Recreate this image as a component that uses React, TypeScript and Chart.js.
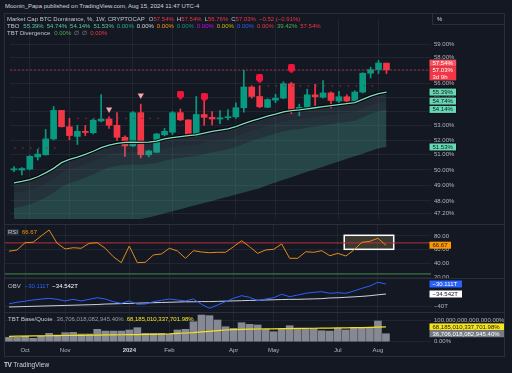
import React, { useEffect, useRef } from "react";
import { Chart, registerables } from "chart.js";
Chart.register(...registerables);

const FONT = '"Liberation Sans", Arial, Helvetica, sans-serif';
const BG = "#141823";
const LINE = "#2a2e39";
const GRID = "rgba(42,46,57,0.6)";
const AXIS_TEXT = "#b2b5be";
const GREEN = "#089981";
const RED = "#f23645";
const MINT = "#7ee0c3";
const X_MIN = -0.5;
const X_MAX = 52.62;
const AXIS_W = 73;

// ---- weekly candles (Sep 18 2023 .. Aug 12 2024) ----
const opens = [50.0, 49.99, 50.05, 50.86, 51.0, 52.08, 54.07, 52.92, 52.25, 52.6, 52.51, 53.32, 53.46, 53.02, 52.19, 51.6, 53.91, 51.0, 51.17, 52.36, 52.54, 53.91, 53.4, 52.31, 53.78, 53.58, 53.46, 53.55, 53.61, 54.26, 55.76, 55.07, 54.29, 54.8, 54.95, 56.0, 54.13, 54.29, 55.19, 55.02, 55.33, 54.74, 55.05, 54.74, 55.39, 56.78, 57.05, 57.54];
const highs = [50.22, 50.15, 50.95, 51.37, 52.73, 54.35, 54.07, 53.51, 53.02, 53.02, 53.46, 55.21, 53.61, 53.91, 52.29, 53.99, 54.52, 51.32, 52.45, 52.8, 53.99, 54.17, 53.4, 55.07, 55.02, 53.99, 54.06, 54.13, 54.62, 57.0, 55.85, 55.85, 54.9, 55.23, 56.15, 56.1, 54.52, 55.6, 55.95, 56.23, 55.4, 55.44, 55.19, 55.49, 56.82, 57.24, 57.75, 57.54];
const lows = [49.88, 49.67, 50.0, 50.65, 50.98, 52.0, 52.9, 52.02, 51.7, 52.31, 52.42, 53.25, 52.8, 51.97, 50.9, 51.55, 50.79, 50.86, 51.17, 52.29, 52.38, 53.34, 52.25, 52.25, 53.02, 53.04, 53.13, 53.4, 53.51, 53.94, 54.95, 54.26, 54.26, 54.62, 54.9, 53.84, 53.69, 54.17, 54.4, 54.95, 54.24, 54.52, 54.52, 54.69, 55.32, 56.43, 56.75, 56.76];
const closes = [50.07, 50.09, 50.9, 51.05, 52.08, 54.07, 52.92, 52.31, 52.6, 52.52, 53.38, 53.46, 53.02, 52.19, 51.6, 53.91, 51.0, 51.26, 52.42, 52.6, 53.91, 53.4, 52.31, 53.78, 53.58, 53.46, 53.55, 53.61, 54.26, 55.76, 55.07, 54.33, 54.85, 54.95, 56.0, 54.13, 54.29, 55.19, 55.05, 55.33, 54.78, 55.05, 54.74, 55.39, 56.78, 57.05, 57.55, 57.03];

// ---- TBO bands ----
const tboFast = [49.15, 49.25, 49.37, 49.55, 49.8, 50.1, 50.48, 50.7, 50.85, 51.03, 51.24, 51.48, 51.66, 51.78, 51.84, 51.86, 51.84, 51.86, 51.93, 52.08, 52.17, 52.24, 52.31, 52.36, 52.48, 52.6, 52.69, 52.77, 52.93, 53.13, 53.33, 53.49, 53.66, 53.8, 53.96, 54.05, 54.1, 54.18, 54.26, 54.34, 54.41, 54.48, 54.55, 54.62, 54.86, 55.1, 55.27, 55.39];
const tboMid = [48.5, 48.6, 48.72, 48.9, 49.15, 49.45, 49.83, 50.05, 50.2, 50.38, 50.59, 50.83, 51.01, 51.13, 51.19, 51.21, 51.19, 51.21, 51.28, 51.43, 51.52, 51.59, 51.66, 51.71, 51.83, 51.95, 52.04, 52.12, 52.28, 52.48, 52.68, 52.84, 53.01, 53.15, 53.31, 53.4, 53.45, 53.53, 53.61, 53.69, 53.76, 53.83, 53.9, 53.97, 54.21, 54.45, 54.62, 54.74];
const tboSlow = [47.55, 47.66, 47.79, 47.97, 48.23, 48.54, 48.92, 49.15, 49.31, 49.5, 49.71, 49.96, 50.15, 50.28, 50.34, 50.37, 50.36, 50.39, 50.46, 50.62, 50.72, 50.8, 50.87, 50.93, 51.06, 51.19, 51.28, 51.37, 51.54, 51.75, 51.95, 52.12, 52.3, 52.45, 52.61, 52.71, 52.77, 52.86, 52.94, 53.03, 53.11, 53.19, 53.26, 53.34, 53.59, 53.84, 54.01, 54.14];
const tboLower = [46.87, 46.87, 46.87, 46.87, 46.87, 46.87, 46.87, 46.87, 46.87, 46.87, 46.87, 46.87, 46.87, 46.87, 46.87, 46.87, 46.87, 46.96, 47.09, 47.22, 47.35, 47.48, 47.61, 47.74, 47.87, 48.0, 48.14, 48.27, 48.4, 48.53, 48.67, 48.81, 49.01, 49.18, 49.35, 49.52, 49.7, 49.87, 50.04, 50.21, 50.38, 50.56, 50.74, 50.91, 51.08, 51.26, 51.44, 51.53];
const tboTop = 57.54;

// dotted levels
const levelValues = [51.45, 53.51, 55.84];
const levelFrom = [0, 8, 31];
const levelTo = [6, 19, 46];

// signal markers
const triIdx = [12, 16];
const triVals = [54.14, 55.15];
const pinIdx = [21, 24, 31, 35];
const pinVals = [55.15, 55.0, 56.36, 57.1];

// ---- RSI ----
const rsi = [58.0, 59.7, 70.3, 70.9, 80.0, 88.7, 69.4, 61.2, 63.0, 62.2, 69.4, 70.3, 62.2, 50.0, 41.3, 65.5, 41.3, 41.9, 52.5, 53.9, 62.2, 58.3, 47.7, 58.7, 56.8, 55.8, 56.4, 56.4, 64.5, 73.2, 64.5, 54.9, 59.7, 60.7, 68.4, 47.7, 47.7, 57.2, 56.4, 58.7, 51.4, 54.9, 51.0, 59.7, 70.9, 72.3, 76.7, 66.67];
const rsiUpper = 70;
const rsiLower = 25;
const rsiBoxX = [41.8, 47.97];
const rsiBoxY = [60.7, 81.0];

// ---- OBV (trillions) ----
const obv = [-38.9, -38.2, -37.7, -37.2, -36.8, -36.45, -36.9, -37.6, -36.9, -37.6, -36.9, -36.2, -36.76, -37.95, -38.66, -37.6, -39.1, -38.97, -37.95, -37.33, -36.76, -37.2, -37.6, -36.76, -39.1, -40.88, -39.41, -37.95, -36.45, -35.3, -36.0, -37.5, -36.76, -36.2, -34.67, -35.74, -35.0, -34.23, -33.79, -33.52, -34.23, -33.97, -34.23, -33.21, -32.02, -31.0, -29.36, -30.111];
const obvMa = [-40.3, -40.2, -40.1, -40.0, -39.9, -39.8, -39.7, -39.6, -39.5, -39.4, -39.3, -39.2, -39.0, -38.9, -38.8, -38.7, -38.6, -38.5, -38.4, -38.3, -38.2, -38.1, -38.0, -38.0, -37.9, -37.9, -37.8, -37.7, -37.6, -37.5, -37.4, -37.3, -37.2, -37.1, -37.0, -36.9, -36.9, -36.8, -36.7, -36.6, -36.3, -36.2, -36.0, -35.8, -35.6, -35.3, -34.9, -34.542];

// ---- TBT Base/Quote (units of 1e12 %) ----
const tbtBars = [20, 20, 26, 15.5, 26, 38.6, 31, 41.6, 43, 35.5, 35.5, 57, 49, 49, 49, 54, 64.5, 38.6, 38.6, 38.6, 34, 54, 57, 92, 123, 120, 100, 69, 61.6, 87.5, 80, 77, 57, 46, 57, 73.7, 61.6, 57, 61.6, 50.7, 49, 61.6, 54, 64.5, 61.6, 64.5, 95.4, 36.706];
const tbtMa = [25, 25.5, 26, 26.5, 27, 27.5, 28, 28.5, 29, 29.5, 30, 30.5, 31, 31.5, 32, 32.5, 33, 33.5, 34, 35, 36, 38, 40, 42, 45, 48, 51, 54, 56, 57, 58, 58.5, 59, 59.5, 60, 60.5, 61, 61.5, 62, 62.5, 63, 63.5, 64, 64.5, 65, 66, 67, 68.185];

// ---- axes ----
const monthIdx = [2, 7, 15, 20, 28, 33, 41, 46];
const monthLabels = ["Oct", "Nov", "2024", "Feb", "Apr", "May", "Jul", "Aug"];
const priceTicks = [47.2, 48, 49, 50, 51, 52, 53, 54, 55, 56, 57, 58, 59];
const rsiTicks = [20, 40, 60, 80];
const obvTicks = [-40];
const tbtTicks = [0, 100];

const pts = (vals: number[]) => vals.map((v, i) => ({ x: i, y: v }));
const span = (v: number, a: number, b: number) => [{ x: a, y: v }, { x: b, y: v }];

function makeX(show: boolean): any {
  return {
    type: "linear",
    min: X_MIN,
    max: X_MAX,
    bounds: "data",
    offset: false,
    grid: { color: GRID, drawTicks: false, offset: false },
    border: { display: false },
    ticks: {
      display: show,
      padding: 4,
      autoSkip: false,
      maxRotation: 0,
      minRotation: 0,
      color: (c: any) => (c.index === 2 ? "#d1d4dc" : AXIS_TEXT),
      font: (c: any) => ({ family: FONT, size: 6, weight: c.index === 2 ? "bold" : "normal" }),
      callback: (_v: any, i: number) => monthLabels[i],
    },
    afterBuildTicks: (s: any) => {
      s.ticks = monthIdx.map((v) => ({ value: v }));
    },
    afterFit: (s: any) => {
      s.paddingLeft = 0;
      s.paddingRight = 0;
      s.height = show ? 13 : 0;
    },
  };
}

function makeY(type: string, min: number, max: number, ticks: number[], fmt: (v: number) => string): any {
  return {
    type,
    position: "right",
    min,
    max,
    bounds: "data",
    grid: { color: GRID, drawTicks: false },
    border: { display: false },
    ticks: {
      color: AXIS_TEXT,
      font: { family: FONT, size: 6 },
      padding: 3,
      autoSkip: false,
      callback: (v: any) => fmt(Number(v)),
    },
    afterBuildTicks: (s: any) => {
      s.ticks = ticks.map((v) => ({ value: v }));
    },
    afterFit: (s: any) => {
      s.width = AXIS_W;
      s.paddingTop = 0;
      s.paddingBottom = 0;
    },
  };
}

type Tag = { value: number; lines: string[]; bg: string; fg: string; w: number; border?: string };
function tagPlugin(id: string, tags: Tag[]): any {
  return {
    id,
    afterDraw(chart: any) {
      const ys = chart.scales.y;
      const ctx = chart.ctx;
      ctx.save();
      ctx.font = `6px ${FONT}`;
      ctx.textBaseline = "middle";
      ctx.textAlign = "left";
      for (const t of tags) {
        const cy = ys.getPixelForValue(t.value);
        const x = ys.left - 1.5;
        const h = 7 * t.lines.length;
        const top = cy - 3.5;
        if (t.border) {
          ctx.fillStyle = t.border;
          ctx.fillRect(x - 0.7, top - 0.7, t.w + 1.4, h + 1.4);
        }
        ctx.fillStyle = t.bg;
        ctx.fillRect(x, top, t.w, h);
        ctx.fillStyle = t.fg;
        t.lines.forEach((s, k) => ctx.fillText(s, x + 3, top + 3.8 + 7 * k));
      }
      ctx.restore();
    },
  };
}

const baseOptions = (scales: any): any => ({
  animation: false,
  responsive: false,
  maintainAspectRatio: false,
  devicePixelRatio: 1,
  events: [],
  layout: { padding: 0 },
  plugins: { legend: { display: false }, tooltip: { enabled: false } },
  scales,
});

function makePin(): HTMLCanvasElement {
  const c = document.createElement("canvas");
  c.width = 7;
  c.height = 9;
  const g = c.getContext("2d")!;
  g.fillStyle = "#f0153c";
  g.beginPath();
  g.moveTo(1.5, 0);
  g.lineTo(5.5, 0);
  g.quadraticCurveTo(7, 0, 7, 1.5);
  g.lineTo(7, 5.5);
  g.lineTo(3.5, 9);
  g.lineTo(0, 5.5);
  g.lineTo(0, 1.5);
  g.quadraticCurveTo(0, 0, 1.5, 0);
  g.closePath();
  g.fill();
  return c;
}

export default function App() {
  const mainRef = useRef<HTMLCanvasElement>(null);
  const rsiRef = useRef<HTMLCanvasElement>(null);
  const obvRef = useRef<HTMLCanvasElement>(null);
  const tbtRef = useRef<HTMLCanvasElement>(null);

  useEffect(() => {
    const charts: Chart[] = [];
    const candleColors = closes.map((c, i) => (c >= opens[i] ? GREEN : RED));
    const last = closes.length - 1;

    const levelSets = levelValues.map((v, k) => ({
      type: "line",
      data: span(v, levelFrom[k], levelTo[k]),
      borderColor: "#8c2d38",
      borderWidth: 1.2,
      borderDash: [1.5, 6.5],
      pointRadius: 0,
      fill: false,
      order: 6,
    }));

    charts.push(
      new Chart(mainRef.current!, {
        type: "bar",
        data: {
          datasets: [
            { type: "line", data: pts(tboFast), borderColor: MINT, borderWidth: 1.3, pointRadius: 0, fill: false, order: 4 },
            { type: "line", data: pts(tboMid), borderWidth: 0, borderColor: "rgba(0,0,0,0)", pointRadius: 0, fill: { target: 0 }, backgroundColor: "rgba(120,150,155,0.16)", order: 10 },
            { type: "line", data: pts(tboSlow), borderWidth: 0, borderColor: "rgba(0,0,0,0)", pointRadius: 0, fill: { target: 1 }, backgroundColor: "rgba(100,160,155,0.2)", order: 10 },
            { type: "line", data: pts(tboLower), borderWidth: 0, borderColor: "rgba(0,0,0,0)", pointRadius: 0, fill: { target: 2 }, backgroundColor: "rgba(80,175,155,0.3)", order: 10 },
            { type: "line", data: pts(tboFast), borderColor: "rgba(0,0,0,0.85)", borderWidth: 3.4, pointRadius: 0, fill: false, order: 5 },
            ...levelSets,
            { type: "line", data: span(closes[last], X_MIN, X_MAX), borderColor: "rgba(242,54,69,0.6)", borderWidth: 1, borderDash: [2, 2], pointRadius: 0, fill: false, order: 3 },
            { type: "bar", data: closes.map((_c, i) => ({ x: i, y: [lows[i], highs[i]] })), backgroundColor: candleColors, barThickness: 1, grouped: false, order: 21 },
            { type: "bar", data: closes.map((c, i) => ({ x: i, y: [opens[i], c] })), backgroundColor: candleColors, barThickness: 6, grouped: false, minBarLength: 1, order: 20 },
            { type: "line", data: triIdx.map((x, k) => ({ x, y: triVals[k] })), showLine: false, pointStyle: "triangle", rotation: 180, pointRadius: 3.6, pointBackgroundColor: "#f5a5a8", pointBorderWidth: 0, order: 1 },
            { type: "line", data: pinIdx.map((x, k) => ({ x, y: pinVals[k] })), showLine: false, pointStyle: makePin(), pointRadius: 4, order: 1 },
          ] as any,
        },
        options: baseOptions({
          x: makeX(false),
          y: makeY("logarithmic", 46.87, 60.98, priceTicks, (v) => v.toFixed(2) + "%"),
        }),
        plugins: [
          tagPlugin("mainTags", [
            { value: tboTop, lines: [tboTop.toFixed(2) + "%"], bg: "#f7525f", fg: "#ffffff", w: 26.7 },
            { value: closes[last], lines: [closes[last].toFixed(2) + "%", "3d 9h"], bg: RED, fg: "#ffffff", w: 26.7 },
            { value: tboFast[last], lines: [tboFast[last].toFixed(2) + "%"], bg: "#66d9b2", fg: "#131722", w: 26.5, border: "#0b0e14" },
            { value: tboMid[last], lines: [tboMid[last].toFixed(2) + "%"], bg: "#66d9b2", fg: "#131722", w: 26.5, border: "#0b0e14" },
            { value: tboSlow[last], lines: [tboSlow[last].toFixed(2) + "%"], bg: "#66d9b2", fg: "#131722", w: 26.5, border: "#0b0e14" },
            { value: tboLower[last], lines: [tboLower[last].toFixed(2) + "%"], bg: "#66d9b2", fg: "#131722", w: 26.5, border: "#0b0e14" },
          ]),
        ],
      } as any)
    );

    const rsiBoxPlugin: any = {
      id: "rsiBox",
      beforeDatasetsDraw(chart: any) {
        const { x, y } = chart.scales;
        const ctx = chart.ctx;
        const x0 = x.getPixelForValue(rsiBoxX[0]);
        const x1 = x.getPixelForValue(rsiBoxX[1]);
        const y0 = y.getPixelForValue(rsiBoxY[1]);
        const y1 = y.getPixelForValue(rsiBoxY[0]);
        ctx.save();
        ctx.fillStyle = "rgba(255,230,120,0.16)";
        ctx.fillRect(x0, y0, x1 - x0, y1 - y0);
        ctx.strokeStyle = "#ffffff";
        ctx.lineWidth = 1.5;
        ctx.strokeRect(x0, y0, x1 - x0, y1 - y0);
        ctx.restore();
      },
    };

    charts.push(
      new Chart(rsiRef.current!, {
        type: "line",
        data: {
          datasets: [
            { data: pts(rsi), borderColor: "#e58b1c", borderWidth: 1, pointRadius: 0, fill: false, order: 1 },
            { data: span(rsiUpper, X_MIN, X_MAX), borderColor: "#b8303c", borderWidth: 1, pointRadius: 0, fill: false, order: 2 },
            { data: span(rsiLower, X_MIN, X_MAX), borderColor: "#3f8f4a", borderWidth: 1, pointRadius: 0, fill: false, order: 2 },
          ] as any,
        },
        options: baseOptions({
          x: makeX(false),
          y: makeY("linear", 19.13, 95.94, rsiTicks, (v) => v.toFixed(2)),
        }),
        plugins: [
          rsiBoxPlugin,
          tagPlugin("rsiTags", [{ value: rsi[last], lines: [rsi[last].toFixed(2)], bg: "#ff9800", fg: "#131722", w: 21.5 }]),
        ],
      } as any)
    );

    const fmtT = (v: number) => (v < 0 ? "\u2212" : "") + Math.abs(v).toFixed(3) + "T";
    charts.push(
      new Chart(obvRef.current!, {
        type: "line",
        data: {
          datasets: [
            { data: pts(obv), borderColor: "#2962ff", borderWidth: 1, pointRadius: 0, fill: false, order: 1 },
            { data: pts(obvMa), borderColor: "#d1d4dc", borderWidth: 1, pointRadius: 0, fill: false, order: 2 },
          ] as any,
        },
        options: baseOptions({
          x: makeX(false),
          y: makeY("linear", -42.517, -27.896, obvTicks, (v) => (v < 0 ? "\u2212" : "") + Math.abs(v) + "T"),
        }),
        plugins: [
          tagPlugin("obvTags", [
            { value: obv[last], lines: [fmtT(obv[last])], bg: "#2962ff", fg: "#ffffff", w: 32.5 },
            { value: obvMa[last], lines: [fmtT(obvMa[last])], bg: "#ffffff", fg: "#131722", w: 32.5 },
          ]),
        ],
      } as any)
    );

    const fmtP = (v: number) =>
      (v * 1e12).toLocaleString("en-US", { minimumFractionDigits: 2, maximumFractionDigits: 2 }) + "%";
    charts.push(
      new Chart(tbtRef.current!, {
        type: "bar",
        data: {
          datasets: [
            { type: "line", data: pts(tbtMa), borderColor: "#f2e21b", borderWidth: 1.2, pointRadius: 0, fill: false, order: 1 },
            { type: "bar", data: pts(tbtBars), backgroundColor: "#868993", barThickness: 7, grouped: false, order: 2 },
          ] as any,
        },
        options: baseOptions({
          x: makeX(true),
          y: makeY("linear", -6.0, 132.3, tbtTicks, fmtP),
        }),
        plugins: [
          tagPlugin("tbtTags", [
            { value: tbtMa[last], lines: ["68,185,010,337,701.98%"], bg: "#f5e51f", fg: "#131722", w: 76 },
            { value: tbtBars[last], lines: ["36,706,018,082,945.40%"], bg: "#787b86", fg: "#ffffff", w: 76 },
          ]),
        ],
      } as any)
    );

    return () => charts.forEach((c) => c.destroy());
  }, []);

  const txt: React.CSSProperties = { position: "absolute", whiteSpace: "nowrap", fontSize: 6, lineHeight: "7px", fontFamily: FONT };
  const v = (color: string, s: string, ml = 3) => <span style={{ color, marginLeft: ml }}>{s}</span>;
  const canvasStyle = (top: number, h: number): React.CSSProperties => ({ position: "absolute", left: 5, top, width: 499, height: h });
  const sep = (top: number): React.CSSProperties => ({ position: "absolute", left: 4, top, width: 501, height: 1, background: LINE });

  return (
    <div style={{ position: "fixed", left: 0, top: 0, width: 512, height: 373, background: BG, overflow: "hidden", fontFamily: FONT }}>
      <div style={{ ...txt, left: 5, top: 3, color: "#d1d4dc" }}>Moonin_Papa published on TradingView.com, Aug 15, 2024 11:47 UTC-4</div>
      <div style={{ position: "absolute", left: 4, top: 13, width: 501, height: 344, border: `1px solid ${LINE}`, boxSizing: "border-box" }} />

      <canvas ref={mainRef} width={499} height={210} style={canvasStyle(14, 210)} />
      <canvas ref={rsiRef} width={499} height={53} style={canvasStyle(225, 53)} />
      <canvas ref={obvRef} width={499} height={33} style={canvasStyle(279, 33)} />
      <canvas ref={tbtRef} width={499} height={43} style={canvasStyle(313, 43)} />

      <div style={sep(224)} />
      <div style={sep(278)} />
      <div style={sep(312)} />

      <div style={{ position: "absolute", left: 432, top: 13, width: 73, height: 12, border: `1px solid ${LINE}`, boxSizing: "border-box", background: BG }}>
        <span style={{ ...txt, left: 4, top: 2, color: "#d1d4dc" }}>%</span>
      </div>

      <div style={{ ...txt, left: 7, top: 15.5, color: "#c3c6ce" }}>
        Market Cap BTC Dominance, %, 1W, CRYPTOCAP
        {v("#c3c6ce", "O", 4)}
        {v(RED, "57.54%", 0)}
        {v("#c3c6ce", "H")}
        {v(RED, "57.54%", 0)}
        {v("#c3c6ce", "L")}
        {v(RED, "56.76%", 0)}
        {v("#c3c6ce", "C")}
        {v(RED, "57.03%", 0)}
        {v(RED, "\u22120.52 (\u22120.91%)")}
      </div>
      <div style={{ ...txt, left: 7, top: 22.5, color: "#c3c6ce" }}>
        TBO
        {v("#5cc9a0", "55.39%", 4)}
        {v("#5cc9a0", "54.74%")}
        {v("#5cc9a0", "54.14%")}
        {v("#5cc9a0", "51.53%")}
        {v("#22ab94", "0.00%")}
        {v("#d1d4dc", "0.00%")}
        {v("#ff9800", "0.00%")}
        {v("#089981", "0.00%")}
        {v("#d500f9", "0.00%")}
        {v("#c9bd00", "0.00%")}
        {v("#2962ff", "0.00%")}
        {v(RED, "0.00%")}
        {v("#4caf50", "39.42%")}
        {v(RED, "57.54%")}
      </div>
      <div style={{ ...txt, left: 7, top: 30.2, color: "#c3c6ce" }}>
        TBT Divergence
        {v("#4caf50", "0.00%", 4)}
        {v("#9598a1", "\u2205")}
        {v("#9598a1", "\u2205")}
        {v(RED, "0.00%")}
      </div>

      <div style={{ ...txt, left: 7, top: 228.5, color: "#c3c6ce" }}>
        <span style={{ background: "#2a2e39", padding: "0 1px", borderRadius: 1 }}>RSI</span>
        {v("#ff9800", "66.67", 3)}
      </div>
      <div style={{ ...txt, left: 8, top: 282.5, color: "#c3c6ce" }}>
        OBV
        {v("#2962ff", "\u221230.111T", 4)}
        {v("#ffffff", "\u221234.542T")}
      </div>
      <div style={{ ...txt, left: 8, top: 315.8, color: "#c3c6ce" }}>
        TBT Base/Quote
        {v("#9598a1", "36,706,018,082,945.40%", 4)}
        {v("#f5e51f", "68,185,010,337,701.98%")}
      </div>

      <div style={{ ...txt, left: 4, top: 361, color: "#d1d4dc", fontSize: 6.5 }}>
        <span style={{ fontWeight: "bold", letterSpacing: -0.5 }}>TV</span>
        <span style={{ marginLeft: 2 }}>TradingView</span>
      </div>
    </div>
  );
}
